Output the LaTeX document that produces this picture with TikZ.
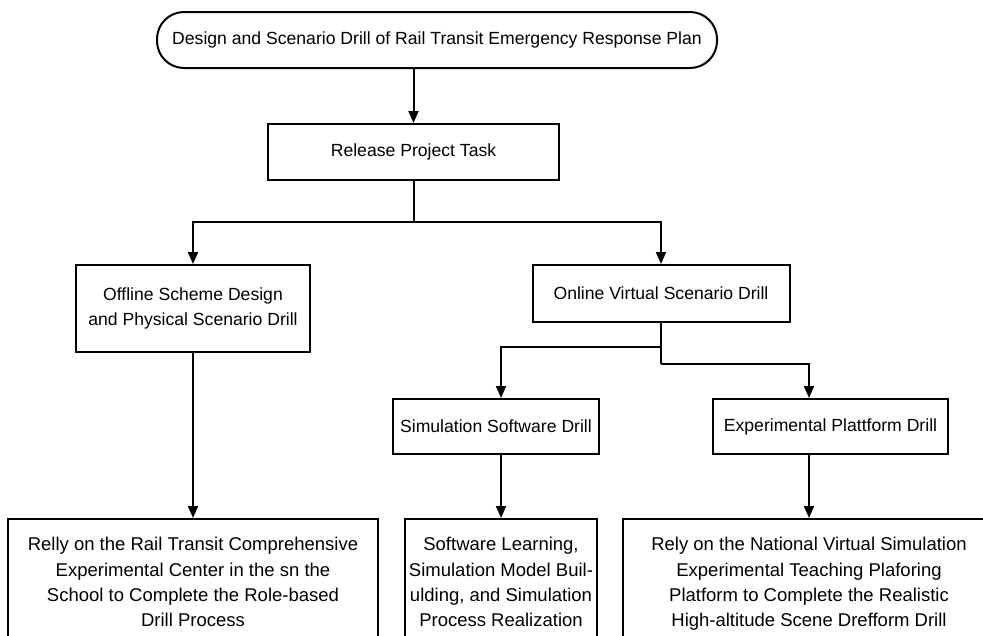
\documentclass[tikz,border=0pt]{standalone}
\usepackage{fontspec}
\setmainfont{Liberation Sans}
\usetikzlibrary{arrows.meta}
\begin{document}
\begin{tikzpicture}[x=1pt,y=-1pt,
  every node/.style={font=\fontsize{17.6}{25}\selectfont},
  box/.style={draw, line width=2pt, rectangle, inner sep=0pt, align=center},
  tallbox/.style={draw, line width=2pt, rectangle, anchor=north, inner xsep=4pt, inner ysep=18.5pt, align=center, font=\fontsize{18.5}{25.2}\selectfont},
  conn/.style={line width=2pt},
  arr/.style={line width=2pt, -{Triangle[length=12pt,width=10pt]}}]
\useasboundingbox (0,0) rectangle (983,635);
\clip (0,0) rectangle (983,635);
\fill[white] (0,0) rectangle (983,635);

\node[box, rounded corners=27pt, minimum width=560pt, minimum height=56pt] (top) at (437,40)
  {Design and Scenario Drill of Rail Transit Emergency Response Plan};
\node[box, minimum width=291pt, minimum height=56pt] (rel) at (413.5,152) {Release Project Task};
\node[box, minimum width=234pt, minimum height=87pt] (off) at (193,308.5)
  {Offline Scheme Design\\and Physical Scenario Drill};
\node[box, minimum width=257pt, minimum height=57pt] (onl) at (661,293.5) {Online Virtual Scenario Drill};
\node[box, minimum width=206pt, minimum height=55pt] (sim) at (496,426.5) {Simulation Software Drill};
\node[box, minimum width=235pt, minimum height=55pt] (exp) at (830.5,426.5) {Experimental Plattform Drill};

\node[tallbox, minimum width=370pt] (lb) at (193,518)
  {Relly on the Rail Transit Comprehensive\\Experimental Center in the sn the\\School to Complete the Role-based\\Drill Process};
\node[tallbox, minimum width=192pt] (mid) at (501,518)
  {Software Learning,\\Simulation Model Buil-\\ulding, and Simulation\\Process Realization};
\node[tallbox, minimum width=372pt] (rb) at (809,518)
  {Rely on the National Virtual Simulation\\Experimental Teaching Plaforing\\Platform to Complete the Realistic\\High-altitude Scene Drefform Drill};

\coordinate (j0) at (413.5,222);
\coordinate (j1) at (661,347);
\coordinate (j2) at (661,364);

\draw[arr] (top.south -| rel.north) -- (rel.north);
\draw[conn] (rel.south) -- (j0);
\draw[arr] (j0) -| (off.north);
\draw[arr] (j0) -| (onl.north);
\draw[conn] (onl.south) -- (j2);
\draw[arr] (j1) -| (sim.north -| mid.north);
\draw[arr] (j2) -| (exp.north -| rb.north);
\draw[arr] (off.south) -- (lb.north);
\draw[arr] (sim.south -| mid.north) -- (mid.north);
\draw[arr] (exp.south -| rb.north) -- (rb.north);
\end{tikzpicture}
\end{document}
